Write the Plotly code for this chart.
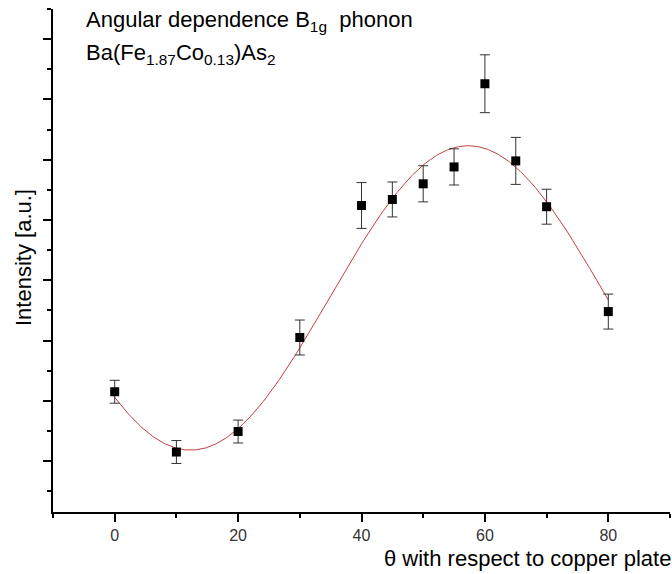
import numpy as np
import plotly.graph_objects as go

# Measured intensity vs. angle (arbitrary units)
theta = [0, 10, 20, 30, 40, 45, 50, 55, 60, 65, 70, 80]
intensity = [2.15, 1.15, 1.49, 3.05, 5.24, 5.34, 5.60, 5.88, 7.26, 5.98, 5.22, 3.48]
intensity_err = [0.19, 0.19, 0.19, 0.29, 0.38, 0.29, 0.30, 0.30, 0.48, 0.39, 0.29, 0.29]

# Sine fit parameters: y = y0 - A*cos(pi*(x - xc)/w)
fit_y0 = 3.707
fit_A = 2.525
fit_xc = 12.3
fit_w = 45.0

x_ticks = [0, 20, 40, 60, 80]

FONT = "Liberation Sans, Arial, sans-serif"

# plot-area geometry in pixels (used to place paper-referenced labels)
L, R, T, B = 53, 2, 9, 62
W, H = 672, 574
PW, PH = W - L - R, H - T - B


def px_x(px):
    return (px - L) / PW


def px_y(py):
    return (H - B - py) / PH


x_fit = np.linspace(0, 80, 400)
y_fit = fit_y0 - fit_A * np.cos(np.pi * (x_fit - fit_xc) / fit_w)

fig = go.Figure()

fig.add_trace(go.Scatter(
    x=x_fit, y=y_fit, mode="lines",
    line=dict(color="#c24040", width=1),
    hoverinfo="skip", showlegend=False,
))

fig.add_trace(go.Scatter(
    x=theta, y=intensity, mode="markers",
    marker=dict(symbol="square", size=9, color="black", line=dict(width=0)),
    error_y=dict(type="data", array=intensity_err, visible=True,
                 color="#333333", thickness=1, width=5),
    showlegend=False,
))

fig.update_layout(
    width=W, height=H,
    margin=dict(l=L, r=R, t=T, b=B),
    paper_bgcolor="white", plot_bgcolor="white",
    font=dict(family=FONT, color="#222222"),
    xaxis=dict(
        range=[-10, 90], tickvals=x_ticks, ticktext=[str(v) for v in x_ticks],
        showline=True, linecolor="black", linewidth=1.5,
        ticks="outside", ticklen=8, tickwidth=1.5, tickcolor="black",
        minor=dict(dtick=10, tick0=0, ticks="outside", ticklen=4,
                   tickwidth=1.5, tickcolor="black"),
        showgrid=False, zeroline=False,
        tickfont=dict(family=FONT, size=16, color="#333333"),
    ),
    yaxis=dict(
        range=[0.155, 8.5], dtick=1, tick0=0,
        showline=True, linecolor="black", linewidth=1.5,
        ticks="outside", ticklen=8, tickwidth=1.5, tickcolor="black",
        minor=dict(dtick=0.5, tick0=0, ticks="outside", ticklen=4,
                   tickwidth=1.5, tickcolor="black"),
        showticklabels=False, showgrid=False, zeroline=False,
    ),
    annotations=[
        dict(text="Angular dependence B<sub>1g</sub>  phonon",
             xref="paper", yref="paper", x=px_x(84), y=px_y(5),
             xanchor="left", yanchor="top", showarrow=False,
             font=dict(family=FONT, size=22, color="black")),
        dict(text="Ba(Fe<sub>1.87</sub>Co<sub>0.13</sub>)As<sub>2</sub>",
             xref="paper", yref="paper", x=px_x(84), y=px_y(38),
             xanchor="left", yanchor="top", showarrow=False,
             font=dict(family=FONT, size=22, color="black")),
        dict(text="\u03b8 with respect to copper plate",
             xref="paper", yref="paper", x=px_x(673), y=px_y(558),
             xanchor="right", yanchor="middle", showarrow=False,
             font=dict(family=FONT, size=22, color="black")),
        dict(text="Intensity [a.u.]", textangle=-90,
             xref="paper", yref="paper", x=px_x(23), y=px_y(258),
             xanchor="center", yanchor="middle", showarrow=False,
             font=dict(family=FONT, size=22, color="black")),
    ],
)

fig.write_html("out.html")
